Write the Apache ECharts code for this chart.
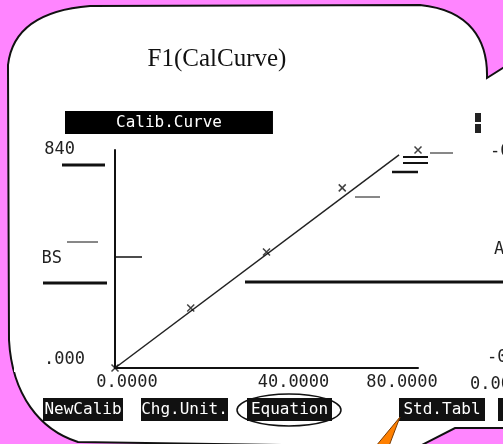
<!DOCTYPE html>
<html>
<head>
<meta charset="utf-8">
<script src="https://cdn.jsdelivr.net/npm/echarts@6/dist/echarts.min.js"></script>
<style>
  html, body { margin: 0; padding: 0; background: #ff85ff; }
  #main { width: 503px; height: 444px; }
</style>
</head>
<body>
<div id="main"></div>
<script>
// calibration standards (conc vs ABS)
const stdConc = [0, 20, 40, 60, 80]
const stdAbs = [0.000, 0.231, 0.447, 0.694, 0.840]
// fitted curve end points
const fitConc = [0, 75]
const fitAbs = [0.000, 0.821]
// axis tick labels
const xTicks = ['0.0000', '40.0000', '80.0000']
const yTicks = ['0.000', '0.840']
const softKeys = ['NewCalib', 'Chg.Unit.', 'Equation', 'Std.Tabl']

const mono = 'DejaVu Sans Mono'
const bubblePath = 'M506 66 L487 78 C488 40 470 10 420 5 L90 6 C40 10 12 30 8 65 L9 340 C12 395 40 430 78 442 L418 447 L455 428 L506 428 Z'
const chart = echarts.init(document.getElementById('main'))

const keyPos = [[43, 80], [141, 87], [247, 85], [399, 86]]
const keyEls = softKeys.map((k, i) => ({
  type: 'group', x: keyPos[i][0], y: 398, z: 60,
  children: [
    { type: 'rect', shape: { x: 0, y: 0, width: keyPos[i][1], height: 23 }, style: { fill: '#111' } },
    { type: 'text', x: keyPos[i][1] / 2, y: 12, style: { text: k, fill: '#fff', font: '16px ' + mono, align: 'center', verticalAlign: 'middle' } }
  ]
}))

chart.setOption({
  backgroundColor: '#ff85ff',
  animation: false,
  title: [{
    text: 'F1(CalCurve)',
    left: 212, top: 42, textAlign: 'center',
    textStyle: { fontFamily: 'Liberation Serif', fontSize: 25, fontWeight: 'normal', color: '#111' }
  }, {
    text: 'Calib.Curve',
    left: 65, top: 111,
    backgroundColor: '#000',
    padding: [3, 51, 3, 51],
    textStyle: { fontFamily: mono, fontSize: 16, lineHeight: 17, fontWeight: 'normal', color: '#fff' }
  }],
  grid: { left: 115, right: 85, top: 150, bottom: 76, outerBoundsMode: 'none', containLabel: false },
  xAxis: {
    type: 'value', min: 0, max: 80, interval: 40,
    axisLine: { lineStyle: { color: '#111', width: 2 } },
    axisTick: { show: false },
    splitLine: { show: false },
    axisLabel: {
      margin: 6, color: '#222', fontFamily: mono, fontSize: 17,
      formatter: v => {
        const t = xTicks[v / 40]
        return v === 0 ? '{a|' + t + '}' : v === 40 ? '{b|' + t + '}' : '{c|' + t + '}'
      },
      rich: {
        a: { fontFamily: mono, fontSize: 17, color: '#222', padding: [0, 0, 0, 24] },
        b: { fontFamily: mono, fontSize: 17, color: '#222', padding: [0, 0, 0, 54] },
        c: { fontFamily: mono, fontSize: 17, color: '#222', padding: [0, 32, 0, 0] }
      }
    }
  },
  yAxis: {
    type: 'value', min: 0, max: 0.84, interval: 0.84,
    name: 'ABS', nameLocation: 'middle', nameRotate: 0, nameGap: 53, nameMoveOverlap: false,
    nameTextStyle: { fontFamily: mono, fontSize: 17, color: '#222', align: 'right', padding: [0, 0, 22, 0] },
    axisLine: { lineStyle: { color: '#111', width: 2 } },
    axisTick: { show: false },
    splitLine: { show: false },
    axisLabel: {
      margin: 30, color: '#222', fontFamily: mono, fontSize: 17,
      formatter: v => v === 0 ? '{a|' + yTicks[0] + '}' : '{b|' + yTicks[1] + '}',
      rich: {
        a: { fontFamily: mono, fontSize: 17, color: '#222', padding: [0, 0, 16, 0] },
        b: { fontFamily: mono, fontSize: 17, color: '#222', padding: [0, 10, 0, 0] }
      }
    }
  },
  series: [{
    // speech bubble behind everything
    type: 'custom',
    coordinateSystem: 'none',
    silent: true,
    z: -1,
    data: [0],
    renderItem: () => ({
      type: 'path',
      shape: { pathData: bubblePath },
      style: { fill: '#fff', stroke: '#111', lineWidth: 2 }
    })
  }, {
    type: 'line',
    data: fitConc.map((c, i) => [c, fitAbs[i]]),
    showSymbol: false,
    lineStyle: { color: '#222', width: 1.5 },
    z: 3
  }, {
    type: 'scatter',
    data: stdConc.map((c, i) => [c, stdAbs[i]]),
    symbol: 'path://M0,0L10,10M10,0L0,10',
    symbolSize: 7,
    itemStyle: { color: 'none', borderColor: '#111', borderWidth: 1.5 },
    z: 4
  }],
  graphic: { elements: [
    // screen remnants
    { type: 'line', z: 5, shape: { x1: 245, y1: 282, x2: 503, y2: 282 }, style: { stroke: '#111', lineWidth: 3 } },
    { type: 'line', z: 5, shape: { x1: 43, y1: 283, x2: 107, y2: 283 }, style: { stroke: '#111', lineWidth: 3 } },
    { type: 'line', z: 5, shape: { x1: 62, y1: 165, x2: 105, y2: 165 }, style: { stroke: '#111', lineWidth: 3 } },
    { type: 'line', z: 5, shape: { x1: 67, y1: 242, x2: 98, y2: 242 }, style: { stroke: '#111', lineWidth: 1 } },
    { type: 'line', z: 5, shape: { x1: 115, y1: 257, x2: 142, y2: 257 }, style: { stroke: '#111', lineWidth: 1.5 } },
    { type: 'line', z: 5, shape: { x1: 403, y1: 157, x2: 428, y2: 157 }, style: { stroke: '#111', lineWidth: 2 } },
    { type: 'line', z: 5, shape: { x1: 403, y1: 163, x2: 428, y2: 163 }, style: { stroke: '#111', lineWidth: 2 } },
    { type: 'line', z: 5, shape: { x1: 392, y1: 172, x2: 418, y2: 172 }, style: { stroke: '#111', lineWidth: 2.5 } },
    { type: 'line', z: 5, shape: { x1: 430, y1: 153, x2: 453, y2: 153 }, style: { stroke: '#111', lineWidth: 1 } },
    { type: 'line', z: 5, shape: { x1: 355, y1: 197, x2: 380, y2: 197 }, style: { stroke: '#111', lineWidth: 1 } },
    { type: 'rect', z: 5, shape: { x: 475, y: 113, width: 6, height: 9 }, style: { fill: '#222' } },
    { type: 'rect', z: 5, shape: { x: 475, y: 124, width: 6, height: 9 }, style: { fill: '#222' } },
    { type: 'text', z: 5, x: 470, y: 385, style: { text: '0.000', font: '17px ' + mono, fill: '#222', verticalAlign: 'middle' } },
    { type: 'text', z: 5, x: 487, y: 358, style: { text: '-0', font: '17px ' + mono, fill: '#222', verticalAlign: 'middle' } },
    { type: 'text', z: 5, x: 494, y: 250, style: { text: 'A', font: '17px ' + mono, fill: '#222', verticalAlign: 'middle' } },
    { type: 'text', z: 5, x: 490, y: 152, style: { text: '-0', font: '17px ' + mono, fill: '#222', verticalAlign: 'middle' } },
    // left edge of the screen crop
    { type: 'rect', z: 50, shape: { x: 14, y: 140, width: 29, height: 232 }, style: { fill: '#fff' } },
    ...keyEls,
    { type: 'rect', z: 60, shape: { x: 498, y: 398, width: 8, height: 23 }, style: { fill: '#111' } },
    { type: 'ellipse', z: 61, shape: { cx: 289, cy: 410, rx: 52, ry: 16 }, style: { fill: 'none', stroke: '#111', lineWidth: 1.5 } },
    { type: 'polygon', z: 70, shape: { points: [[400, 417], [376, 446], [389, 446]] }, style: { fill: '#ff8000', stroke: '#7a3a00', lineWidth: 1 } }
  ] }
})
</script>
</body>
</html>
